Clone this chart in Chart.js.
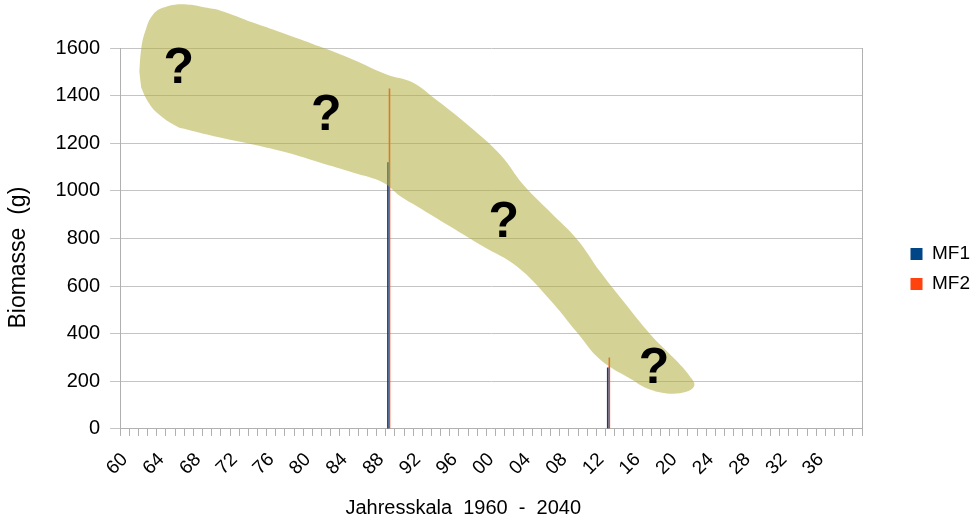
<!DOCTYPE html>
<html>
<head>
<meta charset="utf-8">
<script src="https://cdn.jsdelivr.net/npm/chart.js@4.4.1/dist/chart.umd.min.js"></script>
<style>
  html, body { margin: 0; padding: 0; background: #ffffff; }
  #c { display: block; }
</style>
</head>
<body>
<canvas id="c" width="980" height="520"></canvas>
<script>
// Year categories of the time axis
const years = [
  1960, 1961, 1962, 1963, 1964, 1965, 1966, 1967, 1968, 1969,
  1970, 1971, 1972, 1973, 1974, 1975, 1976, 1977, 1978, 1979,
  1980, 1981, 1982, 1983, 1984, 1985, 1986, 1987, 1988, 1989,
  1990, 1991, 1992, 1993, 1994, 1995, 1996, 1997, 1998, 1999,
  2000, 2001, 2002, 2003, 2004, 2005, 2006, 2007, 2008, 2009,
  2010, 2011, 2012, 2013, 2014, 2015, 2016, 2017, 2018, 2019,
  2020, 2021, 2022, 2023, 2024, 2025, 2026, 2027, 2028, 2029,
  2030, 2031, 2032, 2033, 2034, 2035, 2036, 2037, 2038, 2039,
  2040
];

// Labelled years and their short labels
const tickYears = [1960, 1964, 1968, 1972, 1976, 1980, 1984, 1988, 1992, 1996,
                   2000, 2004, 2008, 2012, 2016, 2020, 2024, 2028, 2032, 2036];
const tickLabels = ['60', '64', '68', '72', '76', '80', '84', '88', '92', '96',
                    '00', '04', '08', '12', '16', '20', '24', '28', '32', '36'];

// Value axis ticks
const yTicks = [0, 200, 400, 600, 800, 1000, 1200, 1400, 1600];

// Measured biomass per sampling year
const sampleYears = [1989, 2013];
const mf1Values = [1120, 258];
const mf2Values = [1430, 300];

// Outline of the uncertain range (year, biomass), traced clockwise
const blobYears = [
  1961.6, 1961.8, 1962.2, 1963.1, 1964.6, 1966.8, 1968.8, 1970.4, 1974.0, 1977.7,
  1981.3, 1984.9, 1988.6, 1991.4, 1993.7, 1997.4, 2001.0, 2003.5, 2006.4, 2009.4,
  2011.9, 2014.8, 2017.4, 2020.3, 2021.7, 2022.2, 2021.4, 2019.2, 2016.8, 2015.5,
  2011.9, 2009.4, 2006.4, 2002.8, 1999.1, 1995.5, 1991.9, 1990.1, 1988.2, 1984.9,
  1981.3, 1977.7, 1974.0, 1970.4, 1966.8, 1965.7, 1963.5, 1962.4, 1961.8
];
const blobValues = [
  1501, 1594, 1665, 1741, 1774, 1783, 1770, 1758, 1707, 1657,
  1606, 1552, 1489, 1456, 1392, 1279, 1153, 1027, 913, 796,
  661, 519, 397, 284, 221, 183, 157, 149, 174, 204,
  292, 405, 544, 683, 767, 851, 935, 977, 1035, 1077,
  1119, 1161, 1195, 1224, 1258, 1270, 1329, 1384, 1434
];

// Question marks placed inside the range
const questionYears = [1965.9, 1982.0, 2001.4, 2017.8];
const questionValues = [1527, 1333, 880, 267];

const FONT = '"Liberation Sans", Arial, Helvetica, sans-serif';
const GRID = '#c4c4c4';
const AXIS = '#b0b0b0';
Chart.defaults.font.family = FONT;
Chart.defaults.color = '#000000';

function pairs(xs, ys) {
  return xs.map((x, i) => ({ x: x, y: ys[i] }));
}

// Fills the range outline from the line element built by the chart,
// then writes the question marks at their point elements.
const rangeLayer = {
  id: 'rangeLayer',
  afterDatasetsDraw(chart) {
    const ctx = chart.ctx;
    chart.data.datasets.forEach((ds, i) => {
      const meta = chart.getDatasetMeta(i);
      if (ds.label === 'Bereich' && meta.dataset) {
        const line = meta.dataset;
        if (line.updateControlPoints) line.updateControlPoints(chart.chartArea, 'x');
        ctx.save();
        ctx.beginPath();
        line.path(ctx);
        ctx.closePath();
        ctx.fillStyle = ds.backgroundColor;
        ctx.fill();
        ctx.restore();
      }
    });
    chart.data.datasets.forEach((ds, i) => {
      if (ds.label !== 'Fragezeichen') return;
      const meta = chart.getDatasetMeta(i);
      const size = 50;
      ctx.save();
      ctx.font = 'bold ' + size + 'px ' + FONT;
      ctx.fillStyle = '#000000';
      ctx.textAlign = 'center';
      ctx.textBaseline = 'alphabetic';
      meta.data.forEach(pt => {
        ctx.fillText('?', pt.x, pt.y + size * 0.36);
      });
      ctx.restore();
    });
  }
};

new Chart(document.getElementById('c'), {
  type: 'bar',
  data: {
    labels: years,
    datasets: [
      {
        label: 'MF1',
        data: pairs(sampleYears, mf1Values),
        backgroundColor: '#004586',
        borderWidth: 0,
        xAxisID: 'x',
        yAxisID: 'y'
      },
      {
        label: 'MF2',
        data: pairs(sampleYears, mf2Values),
        backgroundColor: '#ff420e',
        borderWidth: 0,
        xAxisID: 'x',
        yAxisID: 'y'
      },
      {
        type: 'line',
        label: 'Bereich',
        data: pairs(blobYears, blobValues),
        backgroundColor: 'rgba(178, 173, 62, 0.55)',
        borderWidth: 0,
        fill: false,
        tension: 0.4,
        capBezierPoints: false,
        pointRadius: 0,
        pointHoverRadius: 0,
        clip: false,
        xAxisID: 'xYear',
        yAxisID: 'y'
      },
      {
        type: 'line',
        label: 'Fragezeichen',
        data: pairs(questionYears, questionValues),
        showLine: false,
        borderWidth: 0,
        pointRadius: 0,
        pointHoverRadius: 0,
        clip: false,
        xAxisID: 'xYear',
        yAxisID: 'y'
      }
    ]
  },
  options: {
    responsive: false,
    animation: false,
    devicePixelRatio: 1,
    categoryPercentage: 0.7,
    barPercentage: 1.0,
    elements: { line: { capBezierPoints: false } },
    layout: { padding: { top: 18, right: 0, bottom: 0, left: 0 } },
    plugins: {
      legend: {
        position: 'right',
        labels: {
          filter: item => item.datasetIndex < 2,
          boxWidth: 12,
          boxHeight: 12,
          padding: 11,
          color: '#000000',
          font: { size: 19 }
        }
      },
      tooltip: { enabled: false }
    },
    scales: {
      x: {
        type: 'category',
        offset: true,
        grid: {
          offset: true,
          drawOnChartArea: false,
          drawTicks: true,
          tickLength: 7,
          color: AXIS
        },
        border: { color: AXIS },
        ticks: {
          autoSkip: false,
          minRotation: 45,
          maxRotation: 45,
          padding: 12.5,
          color: '#000000',
          font: { size: 19 },
          callback: function (value, index) {
            const k = tickYears.indexOf(years[index]);
            return k >= 0 ? tickLabels[k] : '';
          }
        },
        title: {
          display: true,
          text: 'Jahresskala  1960  -  2040          ',
          color: '#000000',
          font: { size: 20 },
          padding: { top: 4, bottom: 0 }
        }
      },
      // Year-valued axis for the range outline (same span as the
      // category slots); it also keeps the plot 30px below the legend top.
      xYear: {
        type: 'linear',
        axis: 'x',
        position: 'top',
        display: true,
        offset: false,
        min: 1959.5,
        max: 2040.5,
        grid: { display: false, drawTicks: false, offset: false },
        border: { display: false },
        ticks: { display: false },
        afterFit: scale => { scale.height = 30; }
      },
      y: {
        type: 'linear',
        position: 'left',
        min: 0,
        max: 1600,
        afterBuildTicks: scale => { scale.ticks = yTicks.map(v => ({ value: v })); },
        grid: { color: GRID, tickLength: 10, tickColor: GRID },
        border: { color: AXIS },
        ticks: {
          padding: 10,
          color: '#000000',
          font: { size: 20 },
          callback: value => String(value)
        },
        title: {
          display: true,
          text: 'Biomasse  (g)      ',
          color: '#000000',
          font: { size: 23 },
          padding: { top: 5, bottom: 13 }
        }
      },
      yFrame: {
        type: 'linear',
        axis: 'y',
        position: 'right',
        grid: { drawOnChartArea: false, drawTicks: false },
        ticks: { display: false },
        border: { display: true, color: AXIS },
        afterFit: scale => { scale.width = 37.5; }
      }
    }
  },
  plugins: [rangeLayer]
});
</script>
</body>
</html>
